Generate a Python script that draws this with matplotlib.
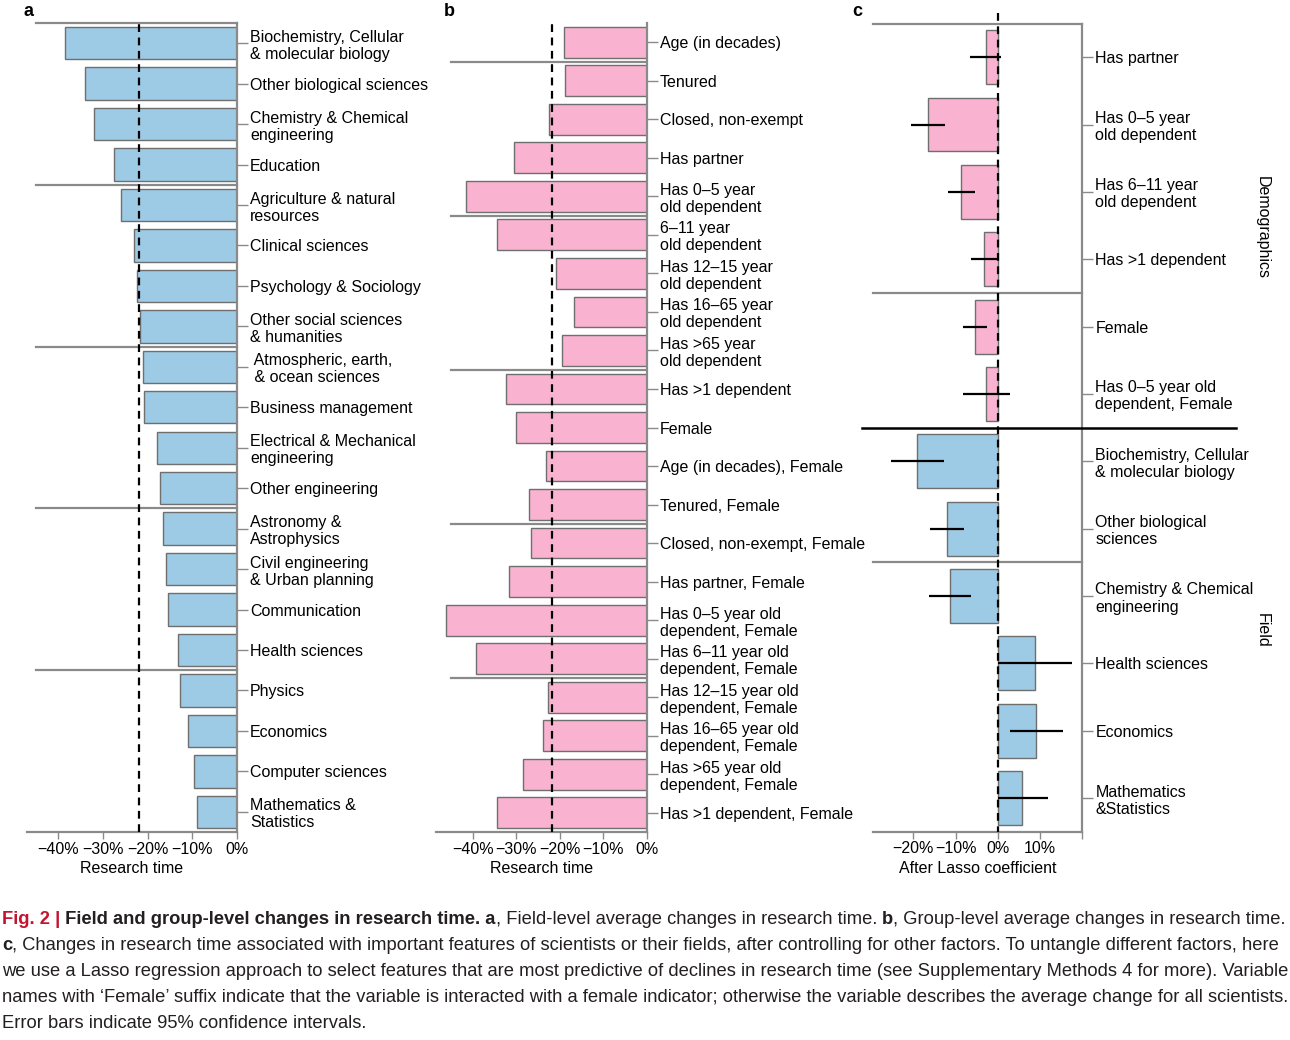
import matplotlib
matplotlib.use("Agg")
import matplotlib.pyplot as plt
from matplotlib.font_manager import FontProperties

plt.rcParams['font.family'] = ['Liberation Sans', 'DejaVu Sans']

# ---- data -------------------------------------------------------------
fields_a = ["Biochemistry, Cellular\n& molecular biology", "Other biological sciences",
            "Chemistry & Chemical\nengineering", "Education",
            "Agriculture & natural\nresources", "Clinical sciences",
            "Psychology & Sociology", "Other social sciences\n& humanities",
            " Atmospheric, earth,\n & ocean sciences", "Business management",
            "Electrical & Mechanical\nengineering", "Other engineering",
            "Astronomy &\nAstrophysics", "Civil engineering\n& Urban planning",
            "Communication", "Health sciences", "Physics", "Economics",
            "Computer sciences", "Mathematics &\nStatistics"]
change_a = [-38.4, -34.0, -32.0, -27.5, -26.0, -23.0, -22.4, -21.7, -21.1, -20.8,
            -18.0, -17.3, -16.5, -15.9, -15.4, -13.1, -12.7, -11.0, -9.6, -9.0]
avg_a = -22.0

groups_b = ["Age (in decades)", "Tenured", "Closed, non-exempt", "Has partner",
            "Has 0–5 year\nold dependent", "6–11 year\nold dependent",
            "Has 12–15 year\nold dependent", "Has 16–65 year\nold dependent",
            "Has >65 year\nold dependent", "Has >1 dependent", "Female",
            "Age (in decades), Female", "Tenured, Female",
            "Closed, non-exempt, Female", "Has partner, Female",
            "Has 0–5 year old\ndependent, Female", "Has 6–11 year old\ndependent, Female",
            "Has 12–15 year old\ndependent, Female", "Has 16–65 year old\ndependent, Female",
            "Has >65 year old\ndependent, Female", "Has >1 dependent, Female"]
change_b = [-19.0, -18.8, -22.4, -30.5, -41.5, -34.5, -20.8, -16.6, -19.4, -32.3,
            -30.0, -23.2, -27.0, -26.6, -31.6, -46.1, -39.2, -22.6, -23.8, -28.5, -34.3]
avg_b = -21.7

features_c = ["Has partner", "Has 0–5 year\nold dependent", "Has 6–11 year\nold dependent",
              "Has >1 dependent", "Female", "Has 0–5 year old\ndependent, Female",
              "Biochemistry, Cellular\n& molecular biology", "Other biological\nsciences",
              "Chemistry & Chemical\nengineering", "Health sciences", "Economics",
              "Mathematics\n&Statistics"]
coef_c = [-2.9, -16.6, -8.6, -3.3, -5.4, -2.7, -19.0, -12.0, -11.3, 8.8, 9.0, 5.8]
ci_lo_c = [-6.5, -20.6, -11.8, -6.3, -8.3, -8.3, -25.2, -16.1, -16.3, 0.0, 2.9, 0.0]
ci_hi_c = [0.8, -12.4, -5.3, 0.0, -2.5, 2.8, -12.8, -7.9, -6.3, 17.6, 15.4, 11.8]
kind_c = ["demo"] * 6 + ["field"] * 6

ticks_ab = [-40, -30, -20, -10, 0]
ticks_c = [-20, -10, 0, 10, 20]

BLUE = "#9dcae5"
PINK = "#f9b3d1"
EDGE = "#6f6f6f"
GREY = "#8a8a8a"
RED = "#c4122f"
FS = 11.5

W, H = 1290, 1040
fig = plt.figure(figsize=(W / 100, H / 100), dpi=100)


def px_axes(x0, x1, y0, y1):
    return fig.add_axes([x0 / W, 1 - y1 / H, (x1 - x0) / W, (y1 - y0) / H])


def pct(v):
    return ("%d%%" % v).replace("-", "\u2212")


def style(ax, labels, xticks, xlabels):
    for s in ("left", "top"):
        ax.spines[s].set_visible(False)
    for s in ("right", "bottom"):
        ax.spines[s].set_color(GREY)
        ax.spines[s].set_linewidth(1.6)
    ax.yaxis.tick_right()
    ax.set_yticks(range(len(labels)))
    ax.set_yticklabels(labels, fontsize=FS)
    for t in ax.get_yticklabels():
        t.set_linespacing(1.17)
    ax.tick_params(axis="y", length=8, width=1, color=GREY, pad=1.5)
    ax.set_xticks(xticks)
    ax.set_xticklabels(xlabels, fontsize=FS)
    ax.tick_params(axis="x", length=5, width=1, color=GREY, pad=2)


# ---- panel a ----------------------------------------------------------
axa = px_axes(27, 237, 23, 832)
ya = range(len(change_a))
axa.barh(ya, change_a, height=0.8, color=BLUE, edgecolor=EDGE, linewidth=1, zorder=2)
axa.axvline(avg_a, color="k", ls=(0, (3.5, 2.5)), lw=1.6, zorder=3)
for yy in [-0.5, 3.5, 7.5, 11.5, 15.5]:
    axa.plot([-45, 0], [yy, yy], color=GREY, lw=1.6, zorder=1, clip_on=False)
axa.set_xlim(-47, 0)
axa.set_ylim(len(change_a) - 0.5, -0.5)
style(axa, fields_a, ticks_ab, [pct(v) for v in ticks_ab])
axa.set_xlabel("Research time", fontsize=FS, labelpad=3)

# ---- panel b ----------------------------------------------------------
axb = px_axes(436, 646.7, 23, 832)
yb = range(len(change_b))
axb.barh(yb, change_b, height=0.8, color=PINK, edgecolor=EDGE, linewidth=1, zorder=2)
axb.axvline(avg_b, color="k", ls=(0, (3.5, 2.5)), lw=1.6, zorder=3)
for yy in [0.5, 4.5, 8.5, 12.5, 16.5]:
    axb.plot([-45, 0], [yy, yy], color=GREY, lw=1.6, zorder=1)
axb.set_xlim(-48.4, 0)
axb.set_ylim(len(change_b) - 0.5, -0.5)
style(axb, groups_b, ticks_ab, [pct(v) for v in ticks_ab])
axb.set_xlabel("Research time", fontsize=FS, labelpad=3)

# ---- panel c ----------------------------------------------------------
axc = px_axes(872.7, 1082.3, 23.5, 831.7)
yc = list(range(len(coef_c)))
cols = [PINK if k == "demo" else BLUE for k in kind_c]
axc.barh(yc, coef_c, height=0.8, color=cols, edgecolor=EDGE, linewidth=1, zorder=2)
axc.hlines(yc, ci_lo_c, ci_hi_c, color="k", lw=1.6, zorder=4)
axc.plot([0, 0], [-0.65, len(coef_c) - 0.5], color="k", ls=(0, (3.5, 2.5)), lw=1.6,
         zorder=3, clip_on=False)
for yy in [-0.5, 3.5, 7.5]:
    axc.plot([-29.6, 20], [yy, yy], color=GREY, lw=1.6, zorder=1, clip_on=False)
axc.plot([-32.2, 56.4], [5.5, 5.5], color="k", lw=1.8, zorder=5, clip_on=False)
axc.set_xlim(-29.6, 20)
axc.set_ylim(len(coef_c) - 0.5, -0.5)
style(axc, features_c, ticks_c, [pct(v) for v in ticks_c[:-1]] + [""])
axc.set_xlabel("After Lasso coefficient", fontsize=FS, labelpad=3)

fig.text(1262 / W, 1 - 227 / H, "Demographics", rotation=270, ha="center", va="center", fontsize=FS)
fig.text(1262 / W, 1 - 630 / H, "Field", rotation=270, ha="center", va="center", fontsize=FS)

for lbl, xx in [("a", 23), ("b", 444), ("c", 852)]:
    fig.text(xx / W, 1 - 12 / H, lbl, fontsize=13, fontweight="bold", ha="left", va="center")

# ---- caption ----------------------------------------------------------
DARK = "#231f20"
cap_family = ["Liberation Sans Narrow", "Liberation Sans"]
caption = [
    [("Fig. 2 |", "bold", RED), (" Field and group-level changes in research time. a", "bold", DARK),
     (", Field-level average changes in research time. ", "normal", DARK), ("b", "bold", DARK),
     (", Group-level average changes in research time.", "normal", DARK)],
    [("c", "bold", DARK), (", Changes in research time associated with important features of scientists "
                           "or their fields, after controlling for other factors. To untangle different "
                           "factors, here", "normal", DARK)],
    [("we use a Lasso regression approach to select features that are most predictive of declines in "
      "research time (see Supplementary Methods 4 for more). Variable", "normal", DARK)],
    [("names with \u2018Female\u2019 suffix indicate that the variable is interacted with a female "
      "indicator; otherwise the variable describes the average change for all scientists.", "normal", DARK)],
    [("Error bars indicate 95% confidence intervals.", "normal", DARK)],
]
cap_y = [919, 945, 971, 997, 1023]

renderer = fig.canvas.get_renderer()


def text_w(s, weight, size):
    fp = FontProperties(family=cap_family, weight=weight, size=size)
    w1, _, _ = renderer.get_text_width_height_descent("|" + s + "|", fp, ismath=False)
    w2, _, _ = renderer.get_text_width_height_descent("||", fp, ismath=False)
    return w1 - w2


ref_w = sum(text_w(t, wt, 12) for t, wt, c in caption[1])
cap_size = 12 * 1284 / ref_w

for runs, yy in zip(caption, cap_y):
    x = 2
    for t, wt, c in runs:
        fig.text(x / W, 1 - yy / H, t, family=cap_family, fontweight=wt, color=c,
                 fontsize=cap_size, ha="left", va="center")
        x += text_w(t, wt, cap_size)

fig.savefig("out.png", dpi=100)
